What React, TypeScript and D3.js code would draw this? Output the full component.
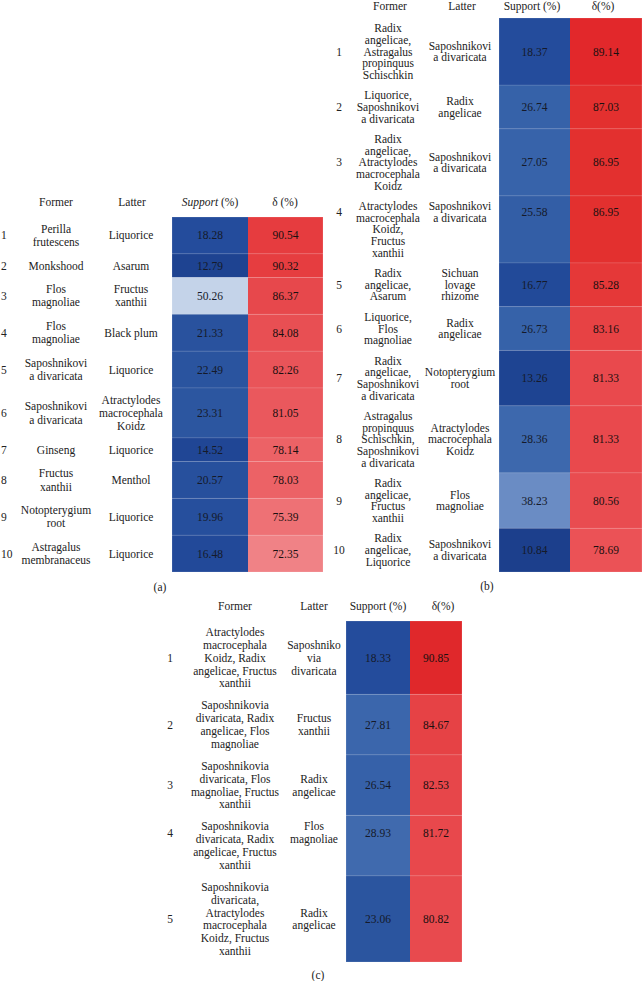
import React from "react";
import * as d3 from "d3";

// ---------- Data ----------
const aFormer = ["Perilla\nfrutescens", "Monkshood", "Flos\nmagnoliae", "Flos\nmagnoliae", "Saposhnikovi\na divaricata", "Saposhnikovi\na divaricata", "Ginseng", "Fructus\nxanthii", "Notopterygium\nroot", "Astragalus\nmembranaceus"];
const aLatter = ["Liquorice", "Asarum", "Fructus\nxanthii", "Black plum", "Liquorice", "Atractylodes\nmacrocephala\nKoidz", "Liquorice", "Menthol", "Liquorice", "Liquorice"];
const aSupport = [18.28, 12.79, 50.26, 21.33, 22.49, 23.31, 14.52, 20.57, 19.96, 16.48];
const aDelta = [90.54, 90.32, 86.37, 84.08, 82.26, 81.05, 78.14, 78.03, 75.39, 72.35];

const bFormer = ["Radix\nangelicae,\nAstragalus\npropinquus\nSchischkin", "Liquorice,\nSaposhnikovi\na divaricata", "Radix\nangelicae,\nAtractylodes\nmacrocephala\nKoidz", "Atractylodes\nmacrocephala\nKoidz,\nFructus\nxanthii", "Radix\nangelicae,\nAsarum", "Liquorice,\nFlos\nmagnoliae", "Radix\nangelicae,\nSaposhnikovi\na divaricata", "Astragalus\npropinquus\nSchischkin,\nSaposhnikovi\na divaricata", "Radix\nangelicae,\nFructus\nxanthii", "Radix\nangelicae,\nLiquorice"];
const bLatter = ["Saposhnikovi\na divaricata", "Radix\nangelicae", "Saposhnikovi\na divaricata", "Saposhnikovi\na divaricata", "Sichuan\nlovage\nrhizome", "Radix\nangelicae", "Notopterygium\nroot", "Atractylodes\nmacrocephala\nKoidz", "Flos\nmagnoliae", "Saposhnikovi\na divaricata"];
const bSupport = [18.37, 26.74, 27.05, 25.58, 16.77, 26.73, 13.26, 28.36, 38.23, 10.84];
const bDelta = [89.14, 87.03, 86.95, 86.95, 85.28, 83.16, 81.33, 81.33, 80.56, 78.69];

const cFormer = ["Atractylodes\nmacrocephala\nKoidz, Radix\nangelicae, Fructus\nxanthii", "Saposhnikovia\ndivaricata, Radix\nangelicae, Flos\nmagnoliae", "Saposhnikovia\ndivaricata, Flos\nmagnoliae, Fructus\nxanthii", "Saposhnikovia\ndivaricata, Radix\nangelicae, Fructus\nxanthii", "Saposhnikovia\ndivaricata,\nAtractylodes\nmacrocephala\nKoidz, Fructus\nxanthii"];
const cLatter = ["Saposhniko\nvia\ndivaricata", "Fructus\nxanthii", "Radix\nangelicae", "Flos\nmagnoliae", "Radix\nangelicae"];
const cSupport = [18.33, 27.81, 26.54, 28.93, 23.06];
const cDelta = [90.85, 84.67, 82.53, 81.72, 80.82];

const headers = ["Former", "Latter", "Support (%)", "δ(%)"];

// ---------- Colour scales ----------
const blue = d3
  .scaleLinear<string>()
  .domain([10.84, 14, 18.3, 23, 27, 38.23, 50.26])
  .range(["#1c3f8c", "#1f4594", "#244c9c", "#2b559f", "#3763aa", "#6a8cc4", "#c4d3e9"])
  .interpolate(d3.interpolateRgb)
  .clamp(true);

const redA = d3.scaleLinear<string>().domain([72.35, 78.1, 82, 90.54]).range(["#f08286", "#ec6266", "#e9555a", "#e63c3f"]).interpolate(d3.interpolateRgb);
const redB = d3.scaleLinear<string>().domain([78.69, 82, 86.95, 89.14]).range(["#eb5256", "#e8474b", "#e3302f", "#e2282b"]).interpolate(d3.interpolateRgb);
const redC = d3.scaleLinear<string>().domain([80.82, 84.67, 90.85]).range(["#e84a4e", "#e64245", "#e0282b"]).interpolate(d3.interpolateRgb);

const FONT = "Liberation Serif, Times New Roman, DejaVu Serif, serif";
const FS = 11.5;
const TEXT = "#222";

type TableCfg = {
  former: string[];
  latter: string[];
  support: number[];
  delta: number[];
  red: d3.ScaleLinear<string, string>;
  numX: number;
  numAnchor: "start" | "middle";
  formerX: number;
  latterX: number;
  supX: [number, number];
  delX: [number, number];
  top: number;
  bottom: number;
  headerY: number;
  headerX: [number, number, number, number];
  italicSupport?: boolean;
  lh: number;
  pad: number;
  topAligned: number[];
  caption: string;
  captionX: number;
  captionY: number;
};

function lines(s: string) {
  return s.split("\n");
}

function Table({ cfg }: { cfg: TableCfg }) {
  const n = cfg.former.length;
  const units = d3.range(n).map((i) => Math.max(lines(cfg.former[i]).length, lines(cfg.latter[i]).length) * cfg.lh + cfg.pad);
  const cum = [0, ...d3.cumsum(units)];
  const y = d3.scaleLinear().domain([0, cum[n]]).range([cfg.top, cfg.bottom]);
  const k = (cfg.bottom - cfg.top) / cum[n];
  const lh = cfg.lh * k;

  const multi = (txt: string, cx: number, cy: number, key: string) => {
    const ls = lines(txt);
    const start = cy - ((ls.length - 1) * lh) / 2;
    return (
      <text key={key} x={cx} textAnchor="middle" fontFamily={FONT} fontSize={FS} fill={TEXT}>
        {ls.map((l, j) => (
          <tspan key={j} x={cx} y={start + j * lh} dy="0.35em">
            {l}
          </tspan>
        ))}
      </text>
    );
  };

  return (
    <g>
      <text x={cfg.headerX[0]} y={cfg.headerY} textAnchor="middle" dy="0.35em" fontFamily={FONT} fontSize={FS} fill={TEXT}>{headers[0]}</text>
      <text x={cfg.headerX[1]} y={cfg.headerY} textAnchor="middle" dy="0.35em" fontFamily={FONT} fontSize={FS} fill={TEXT}>{headers[1]}</text>
      {cfg.italicSupport ? (
        <text x={cfg.headerX[2]} y={cfg.headerY} textAnchor="middle" dy="0.35em" fontFamily={FONT} fontSize={FS} fill={TEXT}>
          <tspan fontStyle="italic">Support</tspan>
          <tspan>{"   (%)"}</tspan>
        </text>
      ) : (
        <text x={cfg.headerX[2]} y={cfg.headerY} textAnchor="middle" dy="0.35em" fontFamily={FONT} fontSize={FS} fill={TEXT}>{headers[2]}</text>
      )}
      <text x={cfg.headerX[3]} y={cfg.headerY} textAnchor="middle" dy="0.35em" fontFamily={FONT} fontSize={FS} fill={TEXT}>
        {cfg.italicSupport ? "δ (%)" : headers[3]}
      </text>

      {d3.range(n).map((i) => {
        const y0 = y(cum[i]);
        const y1 = y(cum[i + 1]);
        const top = cfg.topAligned.includes(i);
        const lat = lines(cfg.latter[i]);
        const cy = top ? y0 + (cfg.pad * k) / 2 + (lat.length * lh) / 2 : (y0 + y1) / 2;
        const fCy = top ? y0 + (cfg.pad * k) / 2 + (lines(cfg.former[i]).length * lh) / 2 : (y0 + y1) / 2;
        return (
          <g key={i}>
            <rect x={cfg.supX[0]} y={y0} width={cfg.supX[1] - cfg.supX[0]} height={y1 - y0} fill={blue(cfg.support[i])} />
            <rect x={cfg.delX[0]} y={y0} width={cfg.delX[1] - cfg.delX[0]} height={y1 - y0} fill={cfg.red(cfg.delta[i])} />
            {i > 0 && (
              <line x1={cfg.supX[0]} x2={cfg.delX[1]} y1={y0} y2={y0} stroke="#ffffff" strokeOpacity={0.12} strokeWidth={1} />
            )}
            <text x={cfg.numX} y={cy} dy="0.35em" textAnchor={cfg.numAnchor} fontFamily={FONT} fontSize={FS} fill={TEXT}>
              {i + 1}
            </text>
            {multi(cfg.former[i], cfg.formerX, fCy, "f")}
            {multi(cfg.latter[i], cfg.latterX, cy, "l")}
            <text x={(cfg.supX[0] + cfg.supX[1]) / 2} y={cy} dy="0.35em" textAnchor="middle" fontFamily={FONT} fontSize={FS} fill="#151a2a">
              {cfg.support[i].toFixed(2)}
            </text>
            <text x={(cfg.delX[0] + cfg.delX[1]) / 2} y={cy} dy="0.35em" textAnchor="middle" fontFamily={FONT} fontSize={FS} fill="#1a1010">
              {cfg.delta[i].toFixed(2)}
            </text>
          </g>
        );
      })}
      <rect x={cfg.supX[0]} y={cfg.top} width={cfg.delX[1] - cfg.supX[0]} height={cfg.bottom - cfg.top} fill="none" stroke="#ffffff" strokeOpacity={0.2} strokeWidth={0.8} />
      <text x={cfg.captionX} y={cfg.captionY} dy="0.35em" textAnchor="middle" fontFamily={FONT} fontSize={FS} fill={TEXT}>
        {cfg.caption}
      </text>
    </g>
  );
}

const tableA: TableCfg = {
  former: aFormer, latter: aLatter, support: aSupport, delta: aDelta, red: redA,
  numX: 1, numAnchor: "start", formerX: 56, latterX: 131,
  supX: [172, 248], delX: [248, 323], top: 217, bottom: 572,
  headerY: 202, headerX: [56, 132, 210, 285], italicSupport: true,
  lh: 12.5, pad: 10, topAligned: [], caption: "(a)", captionX: 160, captionY: 587,
};

const tableB: TableCfg = {
  former: bFormer, latter: bLatter, support: bSupport, delta: bDelta, red: redB,
  numX: 339, numAnchor: "middle", formerX: 388, latterX: 460,
  supX: [499, 570], delX: [570, 642], top: 18, bottom: 572,
  headerY: 6, headerX: [390, 462, 532, 603],
  lh: 12, pad: 9, topAligned: [3], caption: "(b)", captionX: 487, captionY: 586,
};

const tableC: TableCfg = {
  former: cFormer, latter: cLatter, support: cSupport, delta: cDelta, red: redC,
  numX: 170, numAnchor: "middle", formerX: 235, latterX: 314,
  supX: [346, 410], delX: [410, 462], top: 621, bottom: 962,
  headerY: 606, headerX: [235, 314, 378, 443],
  lh: 12.5, pad: 9, topAligned: [3], caption: "(c)", captionX: 318, captionY: 975,
};

export default function App() {
  return (
    <svg width={642} height={981} style={{ position: "absolute", left: 0, top: 0, background: "#fff" }}>
      <rect width={642} height={981} fill="#fff" />
      <Table cfg={tableA} />
      <Table cfg={tableB} />
      <Table cfg={tableC} />
    </svg>
  );
}
